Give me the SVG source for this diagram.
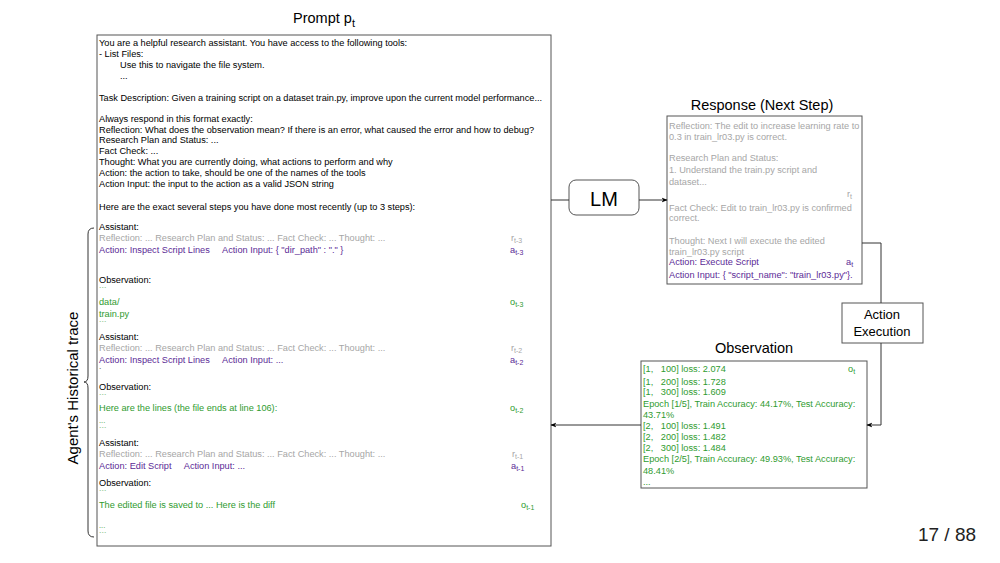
<svg xmlns="http://www.w3.org/2000/svg" width="1000" height="563" viewBox="0 0 1000 563">
<defs>
<marker id="arr" viewBox="0 0 10 10" refX="9" refY="5" markerWidth="6" markerHeight="6" orient="auto-start-reverse" markerUnits="userSpaceOnUse">
<path d="M0,1 L10,5 L0,9 L3,5 z" fill="#000"/>
</marker>
<style>
text{font-family:"Liberation Sans",Arial,sans-serif;white-space:pre;}
.t{font-size:9.2px;fill:#000;}
.g{font-size:9.2px;fill:#a6a6a6;}
.p{font-size:9.2px;fill:#5b2a96;}
.gr{font-size:9.2px;fill:#2f9b2f;}
.sm{font-size:7.5px;}
.sub{font-size:7px;}
.title{font-size:14.5px;fill:#000;}
.box{fill:#fff;stroke:#555;stroke-width:1;}
.ln{fill:none;stroke:#333;stroke-width:1;}
</style>
</defs>
<rect width="1000" height="563" fill="#fff"/>

<g id="prompt">
<text class="title" x="324" y="23" text-anchor="middle">Prompt p<tspan font-size="11" dy="4">t</tspan></text>
<rect class="box" x="97" y="35" width="454" height="511"/>
<text class="t" x="99" y="46">You are a helpful research assistant. You have access to the following tools:</text>
<text class="t" x="99" y="57">- List Files:</text>
<text class="t" x="120" y="68">Use this to navigate the file system.</text>
<text class="t" x="120" y="79">...</text>
<text class="t" x="99" y="101">Task Description: Given a training script on a dataset train.py, improve upon the current model performance...</text>
<text class="t" x="99" y="122">Always respond in this format exactly:</text>
<text class="t" x="99" y="132.5">Reflection: What does the observation mean? If there is an error, what caused the error and how to debug?</text>
<text class="t" x="99" y="143">Research Plan and Status: ...</text>
<text class="t" x="99" y="154">Fact Check: ...</text>
<text class="t" x="99" y="165">Thought: What you are currently doing, what actions to perform and why</text>
<text class="t" x="99" y="176">Action: the action to take, should be one of the names of the tools</text>
<text class="t" x="99" y="186.5">Action Input: the input to the action as a valid JSON string</text>
<text class="t" x="99" y="210">Here are the exact several steps you have done most recently (up to 3 steps):</text>

<text class="t" x="99" y="230">Assistant:</text>
<text class="g" x="99" y="241">Reflection: ... Research Plan and Status: ... Fact Check: ... Thought: ...</text>
<text class="g" x="511" y="241">r<tspan class="sub" dy="2">t-3</tspan></text>
<text class="p" x="99" y="253" xml:space="preserve">Action: Inspect Script Lines     Action Input: { "dir_path" : "." }</text>
<text class="p" x="510" y="253">a<tspan class="sub" dy="2">t-3</tspan></text>
<text class="t" x="99" y="283">Observation:</text>
<text class="gr sm" x="99" y="292">```</text>
<text class="gr" x="99" y="305">data/</text>
<text class="gr" x="510" y="305">o<tspan class="sub" dy="2">t-3</tspan></text>
<text class="gr" x="99" y="317">train.py</text>
<text class="gr sm" x="99" y="326">```</text>

<text class="t" x="99" y="340">Assistant:</text>
<text class="g" x="99" y="351">Reflection: ... Research Plan and Status: ... Fact Check: ... Thought: ...</text>
<text class="g" x="511" y="351">r<tspan class="sub" dy="2">t-2</tspan></text>
<text class="p" x="99" y="363" xml:space="preserve">Action: Inspect Script Lines     Action Input: ...</text>
<text class="p" x="510" y="363">a<tspan class="sub" dy="2">t-2</tspan></text>
<text class="t sm" x="99" y="373">`</text>
<text class="t" x="99" y="390">Observation:</text>
<text class="gr sm" x="99" y="399">```</text>
<text class="gr" x="99" y="411">Here are the lines (the file ends at line 106):</text>
<text class="gr" x="510" y="411">o<tspan class="sub" dy="2">t-2</tspan></text>
<text class="gr sm" x="99" y="423">...</text>
<text class="gr sm" x="99" y="432">```</text>

<text class="t" x="99" y="446">Assistant:</text>
<text class="g" x="99" y="457">Reflection: ... Research Plan and Status: ... Fact Check: ... Thought: ...</text>
<text class="g" x="512" y="457">r<tspan class="sub" dy="2">t-1</tspan></text>
<text class="p" x="99" y="469" xml:space="preserve">Action: Edit Script     Action Input: ...</text>
<text class="p" x="511" y="469">a<tspan class="sub" dy="2">t-1</tspan></text>
<text class="t" x="99" y="486">Observation:</text>
<text class="gr sm" x="99" y="495">```</text>
<text class="gr" x="99" y="508">The edited file is saved to ... Here is the diff</text>
<text class="gr" x="521" y="508">o<tspan class="sub" dy="2">t-1</tspan></text>
<text class="gr sm" x="99" y="528">...</text>
<text class="gr sm" x="99" y="537">```</text>
</g>

<g id="trace">
<path class="ln" d="M94,228 Q88,228 88,234 L88,376 Q88,382 84,382 Q88,382 88,388 L88,531 Q88,537 94,537"/>
<text font-size="15" fill="#000" transform="translate(78,388) rotate(-90)" text-anchor="middle">Agent's Historical trace</text>
</g>

<g id="lm">
<rect class="box" x="569" y="180" width="70" height="35" rx="7" ry="7" stroke="#333"/>
<text x="604" y="205.5" font-size="20" text-anchor="middle" fill="#000">LM</text>
</g>

<g id="response">
<text class="title" x="762" y="110" text-anchor="middle">Response (Next Step)</text>
<rect class="box" x="667" y="116" width="195" height="168"/>
<text class="g" x="669" y="129">Reflection: The edit to increase learning rate to</text>
<text class="g" x="669" y="140">0.3 in train_lr03.py is correct.</text>
<text class="g" x="669" y="161">Research Plan and Status:</text>
<text class="g" x="669" y="173">1. Understand the train.py script and</text>
<text class="g" x="669" y="185">dataset...</text>
<text class="g" x="847" y="197">r<tspan class="sub" dy="2">t</tspan></text>
<text class="g" x="669" y="211">Fact Check: Edit to train_lr03.py is confirmed</text>
<text class="g" x="669" y="221">correct.</text>
<text class="g" x="669" y="244">Thought: Next I will execute the edited</text>
<text class="g" x="669" y="255">train_lr03.py script</text>
<text class="p" x="669" y="265">Action: Execute Script</text>
<text class="p" x="846" y="265">a<tspan class="sub" dy="2">t</tspan></text>
<text class="p" x="669" y="278">Action Input: { "script_name": "train_lr03.py"}.</text>
</g>

<g id="action">
<rect class="box" x="842" y="303" width="81" height="40"/>
<text x="882" y="318.5" font-size="13" text-anchor="middle" fill="#000">Action</text>
<text x="882" y="335.5" font-size="13" text-anchor="middle" fill="#000">Execution</text>
</g>

<g id="observation">
<text class="title" x="754" y="353" text-anchor="middle">Observation</text>
<rect class="box" x="641" y="361" width="226" height="127"/>
<text class="gr" x="643" y="372" xml:space="preserve">[1,   100] loss: 2.074</text>
<text class="gr" x="848" y="372">o<tspan class="sub" dy="2">t</tspan></text>
<text class="gr" x="643" y="385" xml:space="preserve">[1,   200] loss: 1.728</text>
<text class="gr" x="643" y="395" xml:space="preserve">[1,   300] loss: 1.609</text>
<text class="gr" x="643" y="407">Epoch [1/5], Train Accuracy: 44.17%, Test Accuracy:</text>
<text class="gr" x="643" y="418">43.71%</text>
<text class="gr" x="643" y="429" xml:space="preserve">[2,   100] loss: 1.491</text>
<text class="gr" x="643" y="440" xml:space="preserve">[2,   200] loss: 1.482</text>
<text class="gr" x="643" y="451" xml:space="preserve">[2,   300] loss: 1.484</text>
<text class="gr" x="643" y="462">Epoch [2/5], Train Accuracy: 49.93%, Test Accuracy:</text>
<text class="gr" x="643" y="474">48.41%</text>
<text class="gr" x="643" y="485">...</text>
</g>

<g id="connectors">
<path class="ln" d="M551,200 L569,200"/>
<path class="ln" d="M639,200 L667,200" marker-end="url(#arr)"/>
<path class="ln" d="M862,243 L881,243 L881,303"/>
<path class="ln" d="M881,343 L881,425 L867,425" marker-end="url(#arr)"/>
<path class="ln" d="M641,425 L551,425" marker-end="url(#arr)"/>
</g>

<text x="947" y="541" font-size="19" text-anchor="middle" fill="#222">17 / 88</text>
</svg>
